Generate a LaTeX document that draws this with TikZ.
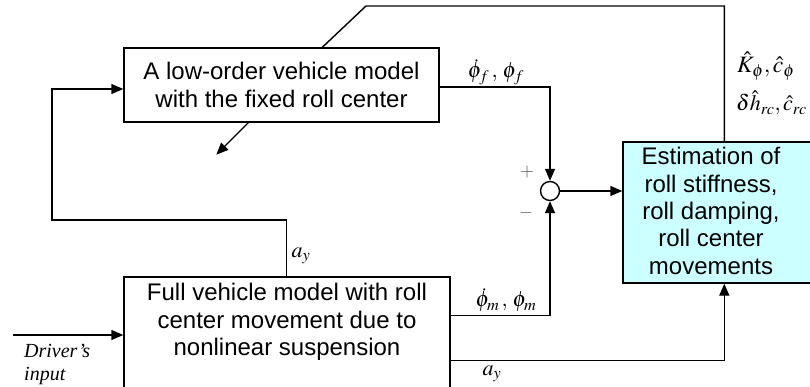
\documentclass[tikz,border=0pt]{standalone}
\usepackage{mathptmx}
\usepackage{fontspec}
\setmainfont{Liberation Sans}
\newfontfamily\timesfont{Liberation Serif}
\usetikzlibrary{arrows.meta}
\definecolor{estfill}{RGB}{204,255,255}
\tikzset{
  blockbox/.style={draw, line width=1.4pt, inner sep=0pt, align=center,
    font=\fontsize{24}{28}\selectfont},
  boxtext/.style={inner sep=0pt, align=center, font=\fontsize{24}{27.3}\selectfont},
  sig/.style={inner sep=0pt, font=\fontsize{22}{26}\selectfont},
  bigsig/.style={inner sep=0pt, font=\fontsize{23.5}{27}\selectfont},
  signlab/.style={inner sep=0pt, text=black!65, font=\fontsize{18}{20}\selectfont},
  conn/.style={line width=1.4pt},
  arr/.style={conn, -{Triangle[length=12pt,width=10pt]}}
}
\begin{document}
\begin{tikzpicture}[x=1pt,y=-1pt]
\useasboundingbox (0,0) rectangle (810,387);
% blocks
\node[blockbox, minimum width=315pt, minimum height=74pt] (top) at (281.5,85)
  {A low-order vehicle model\\with the fixed roll center};
\node[blockbox, minimum width=326pt, minimum height=114pt] (full) at (287,334) {};
\node[boxtext] (fulltext) at (287,322) {Full vehicle model with roll\\center movement due to\\nonlinear suspension};
\node[blockbox, fill=estfill, minimum width=200pt, minimum height=141pt] (est) at (723,212.5) {};
\node[boxtext] (esttext) at (711,211) {Estimation of\\roll stiffness,\\roll damping,\\roll center\\movements};
\node[draw, circle, line width=1.4pt, minimum size=19pt, inner sep=0pt] (sum) at (550,191) {};
% coordinates
\coordinate (lc) at (52,220);
\coordinate (drv) at (13,335);
\coordinate (topcorner) at (366,6);
\coordinate (estin) at ([xshift=102pt]est.north west);
\coordinate (ayin) at ([xshift=102pt]est.south west);
\coordinate (phifo) at ([yshift=-2pt]top.east);
\coordinate (phimo) at ([yshift=-39pt]full.north east);
\coordinate (ayo) at ([yshift=-84pt]full.north east);
\coordinate (ayup) at ([xshift=163pt]full.north west);
\coordinate (diagstart) at ([xshift=125pt]top.south west);
% connectors
\draw[arr] (phifo) -| (sum.north);
\draw[arr] (phimo) -| (sum.south);
\draw[arr] (sum.east) -- (sum -| est.west);
\draw[arr] (ayo) -| (ayin);
\draw[conn] ([xshift=199pt]top.north west) -- (topcorner) -| (estin);
\draw[arr] (diagstart) -- ++(-32,32);
\draw[arr] (ayup) |- (lc) |- ([yshift=-4pt]top.west);
\draw[arr] (drv) -- (drv -| full.west);
% labels
\node[sig] (l1) at (496,72) {$\dot{\phi}_f\,,\,\phi_f$};
\node[sig] (l2) at (506,300) {$\dot{\phi}_m\,,\,\phi_m$};
\node[sig] (l3) at (301,256) {$a_y$};
\node[sig] (l4) at (492,374) {$a_y$};
\node[bigsig, anchor=west] (l5) at (737,66) {$\hat{K}_{\phi},\hat{c}_{\phi}$};
\node[sig, anchor=west] (l6) at (736,103) {$\delta\hat{h}_{rc},\hat{c}_{rc}$};
\node[signlab] (plus) at (527,172) {$+$};
\node[signlab] (minus) at (526,213) {$-$};
\node[inner sep=0pt, anchor=north west, align=left, font=\timesfont\itshape\fontsize{20}{23}\selectfont] (drvlab) at (24,344) {Driver’s\\input};
\end{tikzpicture}
\end{document}
